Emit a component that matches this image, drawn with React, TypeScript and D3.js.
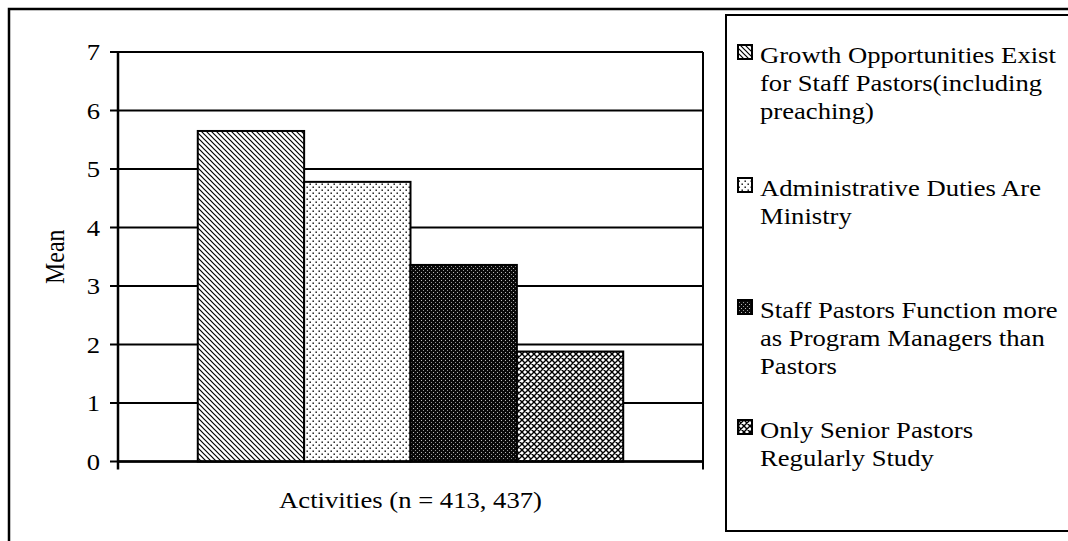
import React from "react";
import * as d3 from "d3";

const categories = ["Activities (n = 413, 437)"];
const seriesNames = [
  "Growth Opportunities Exist for Staff Pastors(including preaching)",
  "Administrative Duties Are Ministry",
  "Staff Pastors Function more as Program Managers than Pastors",
  "Only Senior Pastors Regularly Study",
];
const seriesValues = [5.65, 4.78, 3.36, 1.88];
const legendLines = [
  ["Growth Opportunities Exist", "for Staff Pastors(including", "preaching)"],
  ["Administrative Duties Are", "Ministry"],
  ["Staff Pastors Function more", "as Program Managers than", "Pastors"],
  ["Only Senior Pastors", "Regularly Study"],
];
const legendBaselines = [63, 196, 318, 438];
const yTicks = [0, 1, 2, 3, 4, 5, 6, 7];
const patternIds = ["p1", "p2", "p3", "p4"];

const FONT = "'Liberation Serif','Times New Roman',serif";
const SX = 1.11;

export default function App() {
  const W = 1068;
  const H = 541;
  const plot = { left: 118, right: 703, top: 52, bottom: 461.5 };
  const y = d3.scaleLinear().domain([0, 7]).range([plot.bottom, plot.top]);
  const x0 = d3.scaleBand().domain(categories).range([plot.left, plot.right]);
  const gap = 1.5;
  const groupW = (x0.bandwidth() * seriesNames.length) / (seriesNames.length + gap);
  const cx = (x0(categories[0]) as number) + x0.bandwidth() / 2;
  const x1 = d3
    .scaleBand()
    .domain(seriesNames)
    .range([cx - groupW / 2, cx + groupW / 2]);

  const lineH = 28;
  const txt = (x: number, yy: number, s: string, anchor = "start", extra = "") => (
    <text
      key={s + x + yy}
      transform={`translate(${x},${yy}) scale(${SX},1) ${extra}`}
      textAnchor={anchor}
      fontFamily={FONT}
      fontSize={24}
      fill="#000"
    >
      {s}
    </text>
  );

  return (
    <svg
      width={W}
      height={H}
      style={{ position: "absolute", left: 0, top: 0, background: "#fff" }}
    >
      <defs>
        <pattern id="p1" width={5} height={5} patternUnits="userSpaceOnUse">
          <rect width={5} height={5} fill="#fff" />
          <path d="M0,0 L5,5 M-1,4 L1,6 M4,-1 L6,1" stroke="#000" strokeWidth={1.2} />
        </pattern>
        <pattern id="p2" width={6} height={6} patternUnits="userSpaceOnUse">
          <rect width={6} height={6} fill="#fff" />
          <rect x={0.5} y={0.5} width={1.4} height={1.4} fill="#000" />
          <rect x={3.5} y={3.5} width={1.4} height={1.4} fill="#000" />
        </pattern>
        <pattern id="p3" width={4} height={4} patternUnits="userSpaceOnUse">
          <rect width={4} height={4} fill="#0a0a0a" />
          <rect x={1} y={0} width={1} height={1} fill="#bbb" />
          <rect x={3} y={2} width={1} height={1} fill="#999" />
        </pattern>
        <pattern id="p4" width={6} height={6} patternUnits="userSpaceOnUse">
          <rect width={6} height={6} fill="#fff" />
          <path
            d="M0,0 L6,6 M6,0 L0,6 M-1,5 L1,7 M5,-1 L7,1 M-1,1 L1,-1 M5,7 L7,5"
            stroke="#000"
            strokeWidth={1.4}
          />
        </pattern>
      </defs>

      {/* outer frame */}
      <rect x={9} y={9} width={W + 20} height={H + 20} fill="none" stroke="#000" strokeWidth={2.5} />

      {/* gridlines */}
      {yTicks.map((t) => (
        <line
          key={"g" + t}
          x1={plot.left - 8}
          x2={plot.right}
          y1={y(t)}
          y2={y(t)}
          stroke="#000"
          strokeWidth={2}
        />
      ))}
      {/* plot right border */}
      <line x1={plot.right} x2={plot.right} y1={plot.top} y2={plot.bottom + 8} stroke="#000" strokeWidth={2} />

      {/* bars */}
      {seriesNames.map((s, i) => (
        <rect
          key={s}
          x={x1(s) as number}
          y={y(seriesValues[i])}
          width={x1.bandwidth()}
          height={y(0) - y(seriesValues[i])}
          fill={`url(#${patternIds[i]})`}
          stroke="#000"
          strokeWidth={2}
        />
      ))}

      {/* axes */}
      <line x1={plot.left} x2={plot.left} y1={plot.top} y2={plot.bottom + 8} stroke="#000" strokeWidth={2.5} />
      <line x1={plot.left} x2={plot.right} y1={y(0)} y2={y(0)} stroke="#000" strokeWidth={2.5} />

      {/* y tick labels */}
      {yTicks.map((t) => txt(100, y(t) + 8, String(t), "end"))}

      {/* axis titles */}
      {txt(64, (plot.top + plot.bottom) / 2, "Mean", "middle", "rotate(-90)")}
      {txt(cx, 508, categories[0], "middle")}

      {/* legend */}
      <rect x={726} y={15} width={W} height={516} fill="#fff" stroke="#000" strokeWidth={2} />
      {legendLines.map((lines, i) => (
        <g key={"l" + i}>
          <rect
            x={738}
            y={legendBaselines[i] - 18}
            width={14}
            height={14}
            fill={`url(#${patternIds[i]})`}
            stroke="#000"
            strokeWidth={2}
          />
          {lines.map((ln, j) => txt(760, legendBaselines[i] + j * lineH, ln))}
        </g>
      ))}
    </svg>
  );
}
